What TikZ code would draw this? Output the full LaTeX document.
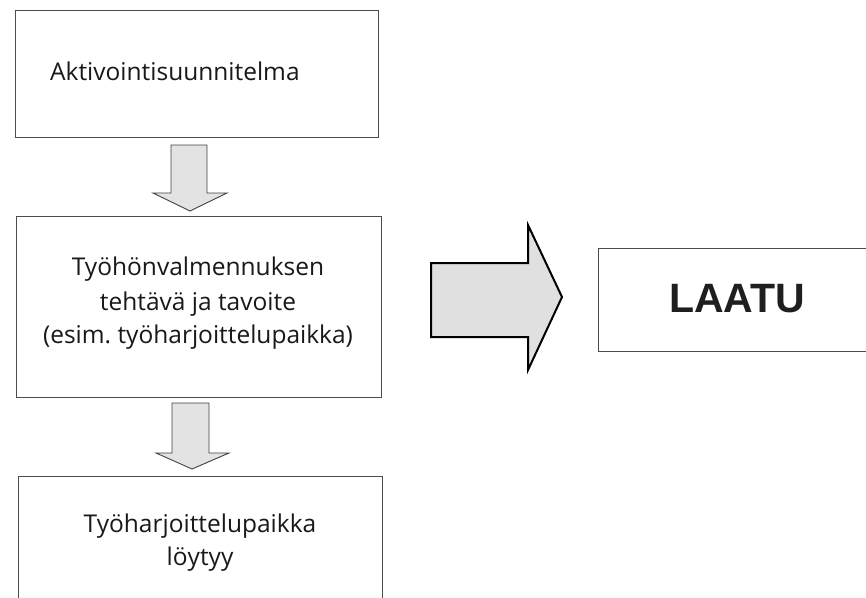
\documentclass[tikz,border=0pt]{standalone}
\usepackage{fontspec}
\setmainfont{Open Sans}
\newfontfamily\boldsans{Liberation Sans}
\frenchspacing
\begin{document}
\begin{tikzpicture}[x=1pt,y=-1pt,
  box/.style={draw=black!70,line width=0.9pt,fill=white,inner sep=0pt},
  label/.style={anchor=base,inner sep=0pt,font=\fontsize{24.5}{28}\selectfont,text=black!90},
  downarrow/.style={draw=black!75,line width=0.9pt,fill=black!11,line join=miter},
  bigarrow/.style={draw=black,line width=2pt,fill=black!12,line join=miter}]
\useasboundingbox (0,0) rectangle (866,597);
\clip (0,0) rectangle (866,597);

% boxes
\node[box,minimum width=363pt,minimum height=127pt] (plan) at (196.5,73.5) {};
\node[box,minimum width=365pt,minimum height=181pt] (task) at (198.5,306.5) {};
\node[box,minimum width=364pt,minimum height=150pt] (found) at (200,551) {};
\node[box,minimum width=290pt,minimum height=103pt] (quality) at (743,299.5) {};

% box texts
\node[label,anchor=base west] (t1) at (50,80) {Aktivointisuunnitelma};
\node[label] (t2a) at (198,275) {Työhönvalmennuksen};
\node[label] (t2b) at (198,310) {tehtävä ja tavoite};
\node[label] (t2c) at (198,343) {(esim. työharjoittelupaikka)};
\node[label] (t3a) at (200,532) {Työharjoittelupaikka};
\node[label] (t3b) at (200,565) {löytyy};
\node[anchor=base,inner sep=0pt,font=\boldsans\bfseries\fontsize{41}{44}\selectfont,text=black!88] (t4) at (737,312) {LAATU};

% block arrows between the boxes
\draw[downarrow] (171,145) -- (207,145) -- (207,193) -- (227,193) -- (190,211)
  -- (153,193) -- (171,193) -- cycle;
\draw[downarrow] (172,403) -- (209,403) -- (209,453) -- (229,453) -- (192,469)
  -- (156,453) -- (172,453) -- cycle;
\draw[bigarrow] (431,263) -- (528,263) -- (528,225) -- (562,297) -- (528,370)
  -- (528,337) -- (431,337) -- cycle;
\end{tikzpicture}
\end{document}
